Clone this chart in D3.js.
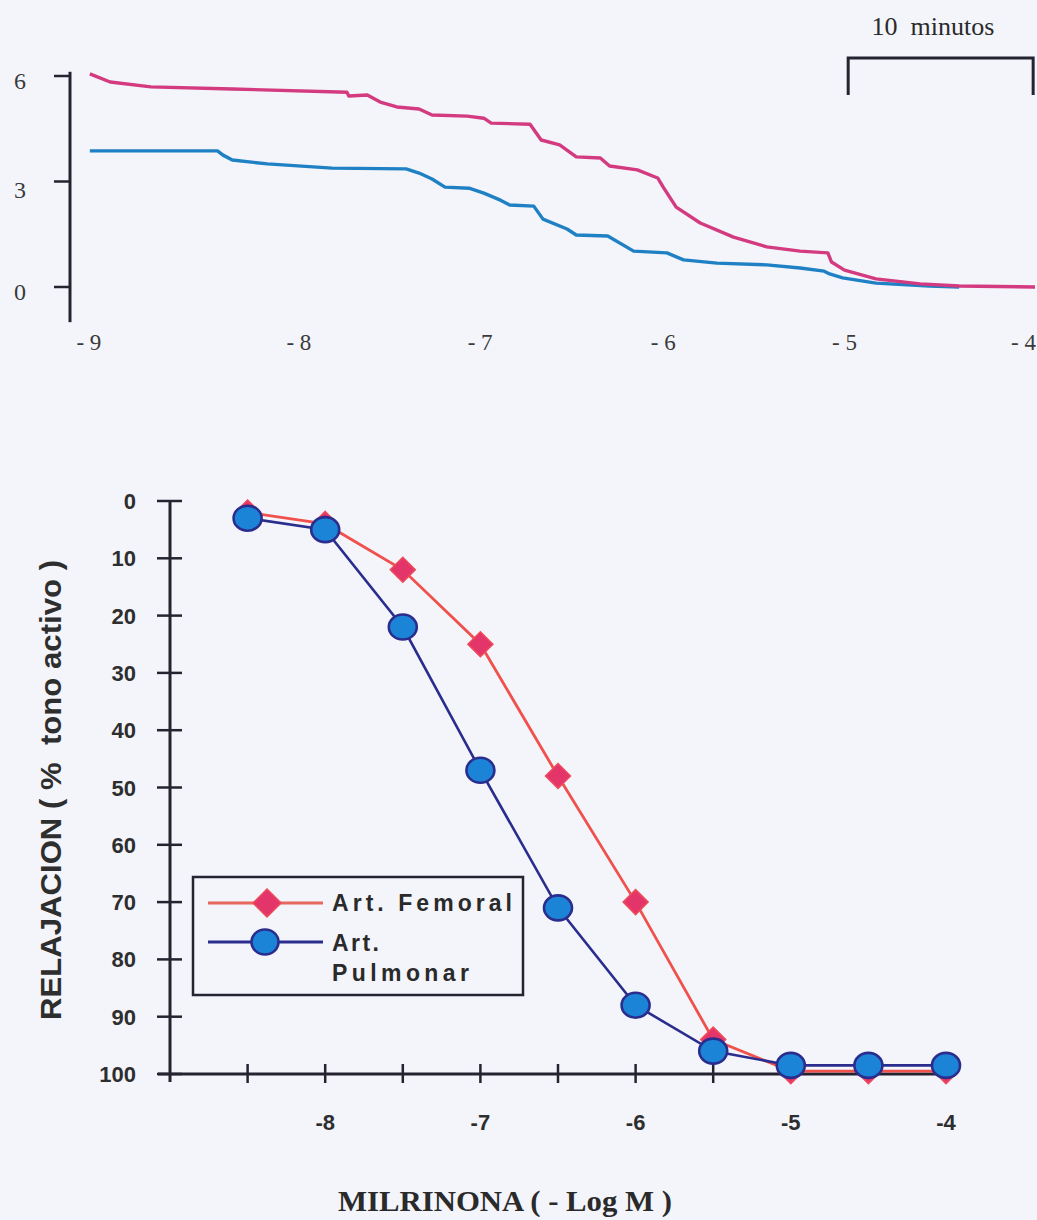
<!DOCTYPE html>
<html>
<head>
<meta charset="utf-8">
<script src="https://cdn.jsdelivr.net/npm/d3@7"></script>
<style>
  html, body { margin: 0; padding: 0; background: #f3f5fb; }
  svg { display: block; }
  .pre { white-space: pre; }
</style>
</head>
<body>
<svg id="chart" width="1037" height="1220"></svg>
<script>
// ---------- Top panel: recorded traces (tension vs time, minutes) ----------
const femoralTraceTime = [0.1, 1.2, 3.4, 7.8, 14.0, 14.1, 15.1, 15.8, 16.7, 17.9, 18.6, 20.5, 21.4, 21.8, 23.9, 24.5, 25.5, 26.4, 27.7, 28.2, 29.7, 30.8, 31.1, 31.8, 33.1, 34.9, 36.7, 38.5, 40.0, 40.2, 40.9, 42.6, 45.0, 47.1, 51.2];
const femoralTraceValue = [6.06, 5.83, 5.69, 5.63, 5.54, 5.43, 5.46, 5.26, 5.12, 5.06, 4.89, 4.86, 4.80, 4.66, 4.63, 4.18, 4.04, 3.70, 3.67, 3.44, 3.33, 3.10, 2.84, 2.27, 1.82, 1.42, 1.14, 1.02, 0.97, 0.71, 0.48, 0.23, 0.09, 0.03, 0.0];
const pulmonarTraceTime = [0.1, 7.0, 7.3, 7.8, 9.7, 13.2, 17.2, 17.9, 18.6, 19.3, 20.6, 21.4, 22.3, 22.8, 24.1, 24.6, 25.9, 26.4, 28.1, 29.5, 31.3, 32.2, 34.0, 36.7, 38.5, 39.8, 40.1, 40.8, 42.6, 45.5, 47.1];
const pulmonarTraceValue = [3.87, 3.87, 3.75, 3.61, 3.50, 3.38, 3.36, 3.24, 3.07, 2.84, 2.81, 2.67, 2.47, 2.33, 2.30, 1.93, 1.65, 1.48, 1.45, 1.02, 0.97, 0.77, 0.68, 0.63, 0.54, 0.45, 0.37, 0.26, 0.11, 0.03, 0.0];
const topYTicks = [0, 3, 6];
const topConcLabels = ["- 9", "- 8", "- 7", "- 6", "- 5", "- 4"];
const topConcLabelTimes = [0.05, 11.4, 21.2, 31.1, 40.9, 50.8];
const scaleBarLabel = "10  minutos";
const scaleBarMinutes = [41.1, 51.1];

// ---------- Bottom panel: concentration-response ----------
const concentrations = [-8.5, -8, -7.5, -7, -6.5, -6, -5.5, -5, -4.5, -4];
const femoralRelax = [2, 4, 12, 25, 48, 70, 94, 99.5, 99.5, 99.5];
const pulmonarRelax = [3, 5, 22, 47, 71, 88, 96, 98.5, 98.5, 98.5];
const xTicks = [-8.5, -8, -7.5, -7, -6.5, -6, -5.5, -5, -4.5, -4];
const xTickLabels = [-8, -7, -6, -5, -4];
const yTicks = [0, 10, 20, 30, 40, 50, 60, 70, 80, 90, 100];
const seriesNames = ["Art. Femoral", "Art.", "Pulmonar"];
const xTitle = "MILRINONA ( - Log M )";
const yTitle = "RELAJACION ( %  tono activo )";

const svg = d3.select("#chart");
const ink = "#262330";

// ===== Top panel =====
const tX = d3.scaleLinear().domain([0, 51.2]).range([88, 1035]);
const tY = d3.scaleLinear().domain([0, 6]).range([287, 76]);

const topG = svg.append("g");
topG.append("line").attr("x1", 70).attr("x2", 70)
  .attr("y1", tY(6.12)).attr("y2", tY(-1.0))
  .attr("stroke", ink).attr("stroke-width", 3);
topG.selectAll(".tt").data(topYTicks).join("line")
  .attr("x1", 54).attr("x2", 70)
  .attr("y1", d => tY(d)).attr("y2", d => tY(d))
  .attr("stroke", ink).attr("stroke-width", 2.5);
topG.selectAll(".tl").data(topYTicks).join("text")
  .attr("x", 20).attr("y", d => tY(d) + 13 + (d === 3 ? 3 : 0))
  .attr("text-anchor", "middle")
  .attr("font-family", "Liberation Serif, Times New Roman, serif")
  .attr("font-size", 24).attr("fill", "#3a3a3a")
  .text(d => d);

const traceLine = d3.line().x(d => tX(d[0])).y(d => tY(d[1]));
const pulData = pulmonarTraceTime.map((t, i) => [t, pulmonarTraceValue[i]]);
const femData = femoralTraceTime.map((t, i) => [t, femoralTraceValue[i]]);
topG.append("path").attr("d", traceLine(pulData))
  .attr("fill", "none").attr("stroke", "#1f80c4").attr("stroke-width", 3.4)
  .attr("stroke-linejoin", "round");
topG.append("path").attr("d", traceLine(femData))
  .attr("fill", "none").attr("stroke", "#d33a80").attr("stroke-width", 3.4)
  .attr("stroke-linejoin", "round");

topG.selectAll(".cl").data(topConcLabels).join("text")
  .attr("x", (d, i) => i === topConcLabels.length - 1 ? 1036 : tX(topConcLabelTimes[i]))
  .attr("y", 350)
  .attr("text-anchor", (d, i) => i === topConcLabels.length - 1 ? "end" : "middle")
  .attr("font-family", "Liberation Serif, Times New Roman, serif")
  .attr("font-size", 23).attr("fill", "#3a3a3a")
  .text(d => d);

const sb0 = tX(scaleBarMinutes[0]), sb1 = tX(scaleBarMinutes[1]);
topG.append("path")
  .attr("d", `M${sb0},95 L${sb0},58 L${sb1},58 L${sb1},95`)
  .attr("fill", "none").attr("stroke", ink).attr("stroke-width", 3);
topG.append("text")
  .attr("class", "pre")
  .attr("x", 933).attr("y", 35)
  .attr("text-anchor", "middle")
  .attr("font-family", "Liberation Serif, Times New Roman, serif")
  .attr("font-size", 26).attr("fill", "#2a2a2a")
  .text(scaleBarLabel);

// ===== Bottom panel =====
const x = d3.scaleLinear().domain([-9, -4]).range([170, 946]);
const y = d3.scaleLinear().domain([0, 100]).range([501, 1074]);
const g = svg.append("g");

g.append("line").attr("x1", x(-9)).attr("x2", x(-9))
  .attr("y1", y(0)).attr("y2", y(101.4))
  .attr("stroke", ink).attr("stroke-width", 3);
g.append("line").attr("x1", 158).attr("x2", x(-4) + 4)
  .attr("y1", y(100)).attr("y2", y(100))
  .attr("stroke", ink).attr("stroke-width", 3);

g.selectAll(".yt").data(yTicks).join("line")
  .attr("x1", x(-9) - 13).attr("x2", x(-9) + 12)
  .attr("y1", d => y(d)).attr("y2", d => y(d))
  .attr("stroke", ink).attr("stroke-width", 2.5);
g.selectAll(".yl").data(yTicks).join("text")
  .attr("x", 136).attr("y", d => y(d) + 8)
  .attr("text-anchor", "end")
  .attr("font-family", "Liberation Sans, Arial, sans-serif")
  .attr("font-weight", "bold").attr("font-size", 22).attr("fill", "#2e2e2e")
  .text(d => d);

g.selectAll(".xt").data(xTicks).join("line")
  .attr("x1", d => x(d)).attr("x2", d => x(d))
  .attr("y1", y(100) - 10).attr("y2", y(100) + 9)
  .attr("stroke", ink).attr("stroke-width", 2.5);
g.selectAll(".xl").data(xTickLabels).join("text")
  .attr("x", d => x(d)).attr("y", 1130)
  .attr("text-anchor", "middle")
  .attr("font-family", "Liberation Sans, Arial, sans-serif")
  .attr("font-weight", "bold").attr("font-size", 22).attr("fill", "#2e2e2e")
  .text(d => d);

g.append("text")
  .attr("x", 505).attr("y", 1211)
  .attr("text-anchor", "middle")
  .attr("font-family", "Liberation Serif, Times New Roman, serif")
  .attr("font-weight", "bold").attr("font-size", 30).attr("fill", "#2a2a2a")
  .attr("textLength", 334).attr("lengthAdjust", "spacingAndGlyphs")
  .text(xTitle);
g.append("text")
  .attr("class", "pre")
  .attr("transform", "translate(61,790) rotate(-90)")
  .attr("text-anchor", "middle")
  .attr("font-family", "Liberation Sans, Arial, sans-serif")
  .attr("font-weight", "bold").attr("font-size", 29).attr("fill", "#2e2e2e")
  .attr("textLength", 460).attr("lengthAdjust", "spacingAndGlyphs")
  .text(yTitle);

const line = d3.line().x(d => x(d[0])).y(d => y(d[1]));
const fem = concentrations.map((c, i) => [c, femoralRelax[i]]);
const pul = concentrations.map((c, i) => [c, pulmonarRelax[i]]);
const femColor = "#f0514c", femFill = "#e4356a";
const pulColor = "#2b2d8e", pulFill = "#1c84d6";
const diamond = (cx, cy, r) => `M${cx},${cy - r} L${cx + r},${cy} L${cx},${cy + r} L${cx - r},${cy} Z`;

g.append("path").attr("d", line(fem))
  .attr("fill", "none").attr("stroke", femColor).attr("stroke-width", 2.8);
g.selectAll(".dm").data(fem).join("path")
  .attr("d", d => diamond(x(d[0]), y(d[1]), 12.5))
  .attr("fill", femFill).attr("stroke", "#ef4a5a").attr("stroke-width", 1.5);
g.append("path").attr("d", line(pul))
  .attr("fill", "none").attr("stroke", pulColor).attr("stroke-width", 2.6);
g.selectAll(".ci").data(pul).join("ellipse")
  .attr("cx", d => x(d[0])).attr("cy", d => y(d[1]))
  .attr("rx", 14).attr("ry", 12.5)
  .attr("fill", pulFill).attr("stroke", pulColor).attr("stroke-width", 2.6);

const lg = g.append("g");
lg.append("rect").attr("x", 193).attr("y", 877).attr("width", 330).attr("height", 118)
  .attr("fill", "none").attr("stroke", ink).attr("stroke-width", 2.5);
lg.append("line").attr("x1", 208).attr("x2", 323).attr("y1", 903).attr("y2", 903)
  .attr("stroke", "#e8675e").attr("stroke-width", 3);
lg.append("path").attr("d", diamond(267, 903, 14))
  .attr("fill", femFill).attr("stroke", "#ef4a5a").attr("stroke-width", 1.5);
lg.append("line").attr("x1", 208).attr("x2", 323).attr("y1", 942).attr("y2", 942)
  .attr("stroke", pulColor).attr("stroke-width", 3);
lg.append("ellipse").attr("cx", 265).attr("cy", 942).attr("rx", 13.5).attr("ry", 12.5)
  .attr("fill", pulFill).attr("stroke", pulColor).attr("stroke-width", 2.6);
const legendText = [
  { t: seriesNames[0], y: 911, w: 180 },
  { t: seriesNames[1], y: 951, w: 47 },
  { t: seriesNames[2], y: 981, w: 137 }
];
lg.selectAll(".lt").data(legendText).join("text")
  .attr("x", 332).attr("y", d => d.y)
  .attr("font-family", "Liberation Sans, Arial, sans-serif")
  .attr("font-weight", "bold").attr("font-size", 23).attr("fill", "#2a2a2a")
  .attr("textLength", d => d.w).attr("lengthAdjust", "spacing")
  .text(d => d.t);
</script>
</body>
</html>
